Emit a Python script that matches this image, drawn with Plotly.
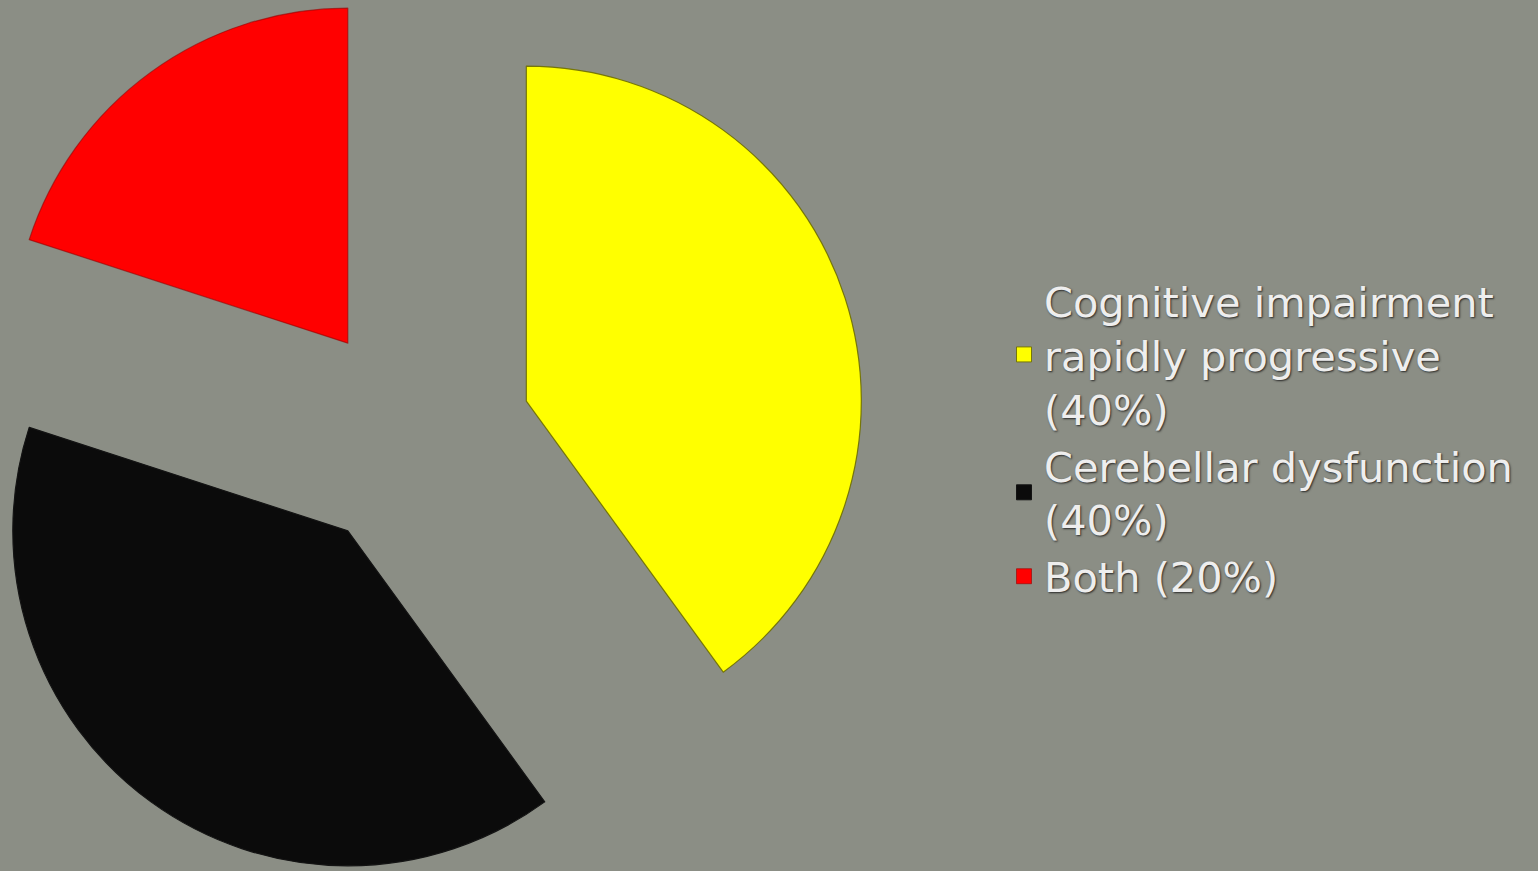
import math
import plotly.graph_objects as go

# ---- data ----
categories = ["Cognitive impairment rapidly progressive", "Cerebellar dysfunction", "Both"]
legend_labels = [
    "Cognitive impairment<br>rapidly progressive<br>(40%)",
    "Cerebellar dysfunction<br>(40%)",
    "Both (20%)",
]
values = [40, 40, 20]
colors = ["#ffff00", "#0b0b0b", "#ff0000"]
edge_colors = ["rgba(110,110,0,0.9)", "rgba(20,20,20,1)", "rgba(150,0,0,0.6)"]

# ---- layout geometry (pixels) ----
W, H = 1538, 871
CX, CY = 416, 437      # centre of un-exploded pie
R = 335                # pie radius
PULL_PX = 116          # explode distance
BG = "#8b8e85"
TRANSPARENT = "rgba(0,0,0,0)"

fig = go.Figure()

total = float(sum(values))
cum = 0.0
for i, v in enumerate(values):
    mid = (cum + v / 2.0) / total * 2 * math.pi
    cum += v
    vx = CX + PULL_PX * math.sin(mid)
    vy = CY - PULL_PX * math.cos(mid)
    dx = [max(0.0, (vx - R) / W), min(1.0, (vx + R) / W)]
    dy = [max(0.0, 1 - (vy + R) / H), min(1.0, 1 - (vy - R) / H)]
    fig.add_trace(go.Pie(
        labels=categories,
        values=values,
        sort=False,
        direction="clockwise",
        rotation=0,
        marker=dict(
            colors=[colors[j] if j == i else TRANSPARENT for j in range(len(values))],
            line=dict(
                color=[edge_colors[j] if j == i else TRANSPARENT for j in range(len(values))],
                width=1.2,
            ),
        ),
        textinfo="none",
        hoverinfo="skip",
        showlegend=False,
        domain=dict(x=dx, y=dy),
    ))

# legend entries
for lab, col, ec in zip(legend_labels, colors, edge_colors):
    fig.add_trace(go.Scatter(
        x=[None], y=[None], mode="markers", name=lab,
        marker=dict(symbol="square", size=15, color=col, line=dict(color=ec, width=1)),
        hoverinfo="skip",
    ))

fig.update_layout(
    width=W, height=H,
    margin=dict(l=0, r=0, t=0, b=0, autoexpand=False),
    paper_bgcolor=BG, plot_bgcolor=BG,
    xaxis=dict(visible=False), yaxis=dict(visible=False),
    legend=dict(
        xref="paper", yref="paper",
        x=1004 / W, xanchor="left",
        y=1 - 267 / H, yanchor="top",
        bgcolor="rgba(0,0,0,0)",
        font=dict(family="DejaVu Sans", size=41.5, color="#eeeeee",
                  shadow="1px 1px 2px rgba(30,30,30,0.9)"),
        tracegroupgap=0,
        itemwidth=30,
    ),
)

fig.write_html("out.html")
